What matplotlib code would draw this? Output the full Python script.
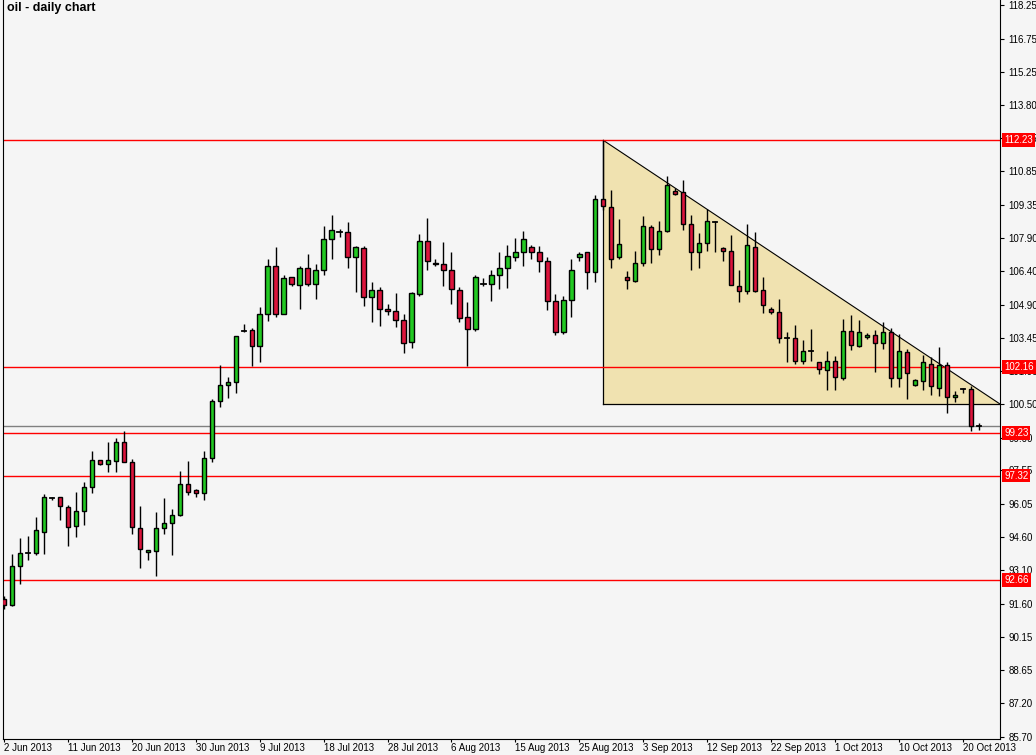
import matplotlib
matplotlib.use("Agg")
import matplotlib.pyplot as plt
from matplotlib.patches import Rectangle, Polygon

opens = [91.84,91.58,93.30,93.88,93.88,94.81,96.31,96.36,95.91,95.07,95.74,96.80,97.99,97.82,97.95,98.83,97.90,94.98,93.92,93.97,
94.98,95.20,95.56,96.93,96.66,96.53,98.08,100.65,101.35,101.49,103.74,103.79,103.08,104.49,106.62,104.49,106.13,105.78,106.57,105.82,
106.48,107.86,108.17,108.17,107.02,107.46,105.25,105.56,104.71,104.63,104.23,103.26,105.38,107.77,106.79,106.71,106.44,105.56,104.36,103.83,
105.86,105.86,106.26,106.53,107.06,107.28,107.50,107.28,106.88,105.07,103.70,105.11,107.06,107.24,106.35,109.62,109.27,107.02,106.13,105.95,
106.79,108.39,107.41,108.21,109.98,109.93,108.52,107.24,107.68,108.61,107.46,107.32,105.73,105.51,107.50,105.56,104.71,104.58,103.43,103.43,
102.41,102.86,102.37,102.02,102.41,101.66,103.74,103.08,103.48,103.56,103.21,103.70,101.66,102.81,101.35,101.53,102.28,101.22,102.24,100.82,
101.18,101.18,99.50]
highs = [91.98,93.83,94.54,94.63,95.47,96.49,96.36,96.36,96.00,96.58,97.02,98.39,97.99,98.83,99.01,99.32,98.04,95.96,94.01,95.69,
96.31,95.82,97.51,97.95,96.71,98.39,100.73,102.24,101.71,103.52,104.05,103.87,104.80,106.97,107.50,106.22,106.13,106.66,107.19,106.71,
108.43,108.92,108.30,108.61,107.55,107.55,105.91,105.69,104.94,105.42,104.49,105.47,108.08,108.78,106.97,107.72,107.28,105.69,105.02,106.26,
106.09,106.48,107.24,107.59,107.90,108.21,107.59,107.55,107.02,105.38,105.29,106.97,107.28,107.24,109.80,112.23,110.02,108.74,106.40,107.32,
108.87,108.47,108.65,110.64,110.11,110.46,108.92,108.12,109.18,108.65,107.50,108.03,106.48,108.52,108.17,106.17,104.80,105.16,103.70,104.01,
103.34,103.83,102.37,102.86,102.64,104.27,104.45,104.23,103.65,103.79,104.14,103.87,103.61,102.95,101.62,102.68,102.59,103.03,102.37,101.09,
101.22,101.31,99.67]
lows = [91.40,91.53,92.51,93.57,93.79,93.83,96.22,95.34,94.19,94.59,95.12,96.53,97.77,97.46,97.46,97.90,94.72,93.21,93.57,92.86,
94.72,93.79,95.52,96.44,96.36,96.22,97.90,100.38,100.78,101.00,103.70,102.20,102.37,104.18,104.36,104.49,105.73,104.71,105.73,105.16,
106.22,106.97,107.94,106.53,105.47,104.85,104.14,103.96,104.45,103.92,102.77,102.99,105.29,106.48,106.66,105.73,104.94,104.14,102.18,103.74,
105.73,105.07,105.60,105.64,106.84,106.62,106.97,106.35,104.67,103.56,103.61,104.36,106.88,105.60,105.91,109.14,106.57,106.97,105.60,105.91,
106.62,106.79,107.15,108.17,109.80,108.25,106.44,106.57,107.32,107.28,106.88,105.78,105.02,105.38,105.47,104.54,104.49,103.21,102.37,102.28,
102.28,102.41,101.84,101.13,101.13,101.57,102.90,103.03,103.39,101.93,102.95,101.26,101.26,100.73,101.31,101.13,100.91,100.87,100.12,100.60,
101.00,99.32,99.36]
closes = [91.58,93.30,93.88,93.90,94.90,96.36,96.30,95.96,95.03,95.74,96.80,97.99,97.82,97.99,98.83,97.90,95.03,94.05,94.01,94.98,
95.20,95.56,96.93,96.58,96.53,98.12,100.65,101.35,101.49,103.52,103.74,103.08,104.49,106.62,104.49,106.09,105.82,106.57,105.82,106.44,
107.86,108.26,108.17,107.06,107.50,105.25,105.56,104.71,104.63,104.23,103.21,105.42,107.77,106.88,106.71,106.44,105.60,104.32,103.83,106.17,
105.86,106.26,106.53,107.10,107.28,107.86,107.28,106.88,105.07,103.70,105.11,106.44,107.19,106.35,109.62,109.31,106.97,107.63,106.00,106.79,
108.43,107.41,108.21,110.24,109.85,108.52,107.24,107.68,108.65,108.61,107.32,105.78,105.51,107.59,105.51,104.89,104.58,103.43,103.43,102.41,
102.86,102.86,102.06,102.41,101.71,103.74,103.12,103.70,103.56,103.21,103.70,101.66,102.86,101.88,101.57,102.37,101.31,102.24,100.82,100.91,
101.18,99.50,99.50]

date_labels = ["2 Jun 2013","11 Jun 2013","20 Jun 2013","30 Jun 2013","9 Jul 2013","18 Jul 2013","28 Jul 2013","6 Aug 2013",
               "15 Aug 2013","25 Aug 2013","3 Sep 2013","12 Sep 2013","22 Sep 2013","1 Oct 2013","10 Oct 2013","20 Oct 2013"]
price_ticks = [118.25,116.75,115.25,113.80,112.35,110.85,109.35,107.90,106.40,104.90,103.45,101.95,100.50,99.00,97.55,96.05,
               94.60,93.10,91.60,90.15,88.65,87.20,85.70]
level_lines = [112.23,102.16,99.23,97.32,92.66]
triangle_start = 75
triangle_top = 112.23
triangle_base = 100.50

BG = "#F5F5F5"
fig = plt.figure(figsize=(10.36, 7.55), dpi=100, facecolor=BG)
ax = fig.add_axes([3/1036, 16/755, 997/1036, 739/755])
ax.set_facecolor(BG)
xmax = 124.65
ax.set_xlim(-0.125, xmax)
ax.set_ylim(85.70 - 0.1, 118.47)

ax.add_patch(Polygon([(triangle_start, triangle_top), (triangle_start, triangle_base), (xmax, triangle_base)],
                     closed=True, facecolor="#F0E2B0", edgecolor="none", zorder=1))
ax.plot([triangle_start, xmax], [triangle_top, triangle_base], color="black", lw=0.8, zorder=2)
ax.plot([triangle_start, triangle_start], [triangle_top, triangle_base], color="black", lw=0.9, zorder=2)
ax.plot([triangle_start, xmax], [triangle_base, triangle_base], color="black", lw=0.9, zorder=2)

for lv in level_lines:
    ax.axhline(lv, color="red", lw=1.0, zorder=2)
ax.axhline(closes[-1], color="#808080", lw=1.0, zorder=2)

w = 0.55
for i, (o, h, l, c) in enumerate(zip(opens, highs, lows, closes)):
    ax.plot([i, i], [l, h], color="black", lw=1.0, zorder=3, solid_capstyle="butt")
    bot, top = min(o, c), max(o, c)
    if top - bot < 0.05:
        ax.plot([i - w/2, i + w/2], [o, o], color="black", lw=1.3, zorder=4)
    else:
        col = "#22C922" if c >= o else "#DC143C"
        ax.add_patch(Rectangle((i - w/2, bot), w, top - bot, facecolor=col, edgecolor="black", lw=1.0, zorder=4))

ax.spines["top"].set_visible(False)
for s in ["left", "right", "bottom"]:
    ax.spines[s].set_color("black")

ax.yaxis.tick_right()
ax.set_yticks(price_ticks)
ax.set_yticklabels([f"{p:.2f}" for p in price_ticks], fontsize=7, family="Liberation Sans")
ax.tick_params(axis="y", length=3, pad=3, color="black")

ax.set_xticks([8 * k for k in range(len(date_labels))])
ax.set_xticklabels(date_labels, fontsize=7, family="Liberation Sans", ha="left")
ax.tick_params(axis="x", length=2, pad=1, color="black")

for lv in level_lines:
    ax.annotate(f"{lv:.2f}", xy=(1.0, lv), xycoords=("axes fraction", "data"), xytext=(3, 0),
                textcoords="offset points", fontsize=7, family="Liberation Sans", color="white",
                va="center", ha="left", zorder=10,
                bbox=dict(boxstyle="square,pad=0.2", facecolor="red", edgecolor="none"))

ax.text(0.004, 0.997, "oil - daily chart", transform=ax.transAxes, fontsize=9, fontweight="bold",
        family="Liberation Sans", va="top", ha="left")

fig.savefig("out.png", dpi=100, facecolor=BG)
